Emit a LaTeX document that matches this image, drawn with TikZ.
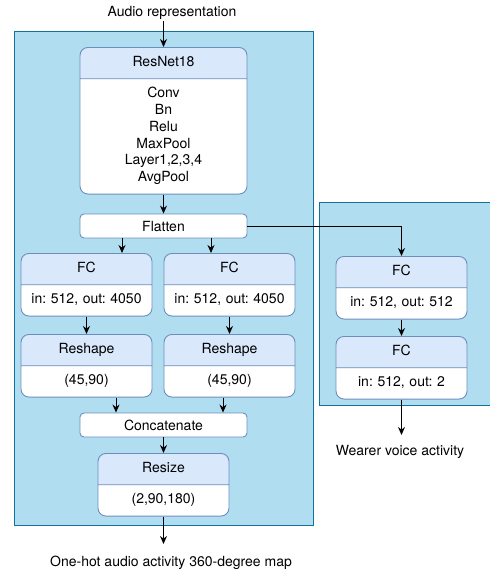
\documentclass[tikz,border=0pt]{standalone}
\usepackage{fontspec}
\setmainfont{TeX Gyre Heros}
\usetikzlibrary{shapes.multipart,arrows.meta}
\definecolor{panelfill}{HTML}{B1DDF0}
\definecolor{panelline}{HTML}{10739E}
\definecolor{headfill}{HTML}{DAE8FC}
\definecolor{boxline}{HTML}{6C8EBF}
\frenchspacing

\begin{document}
\begin{tikzpicture}[x=1pt,y=-1pt,font=\fontsize{14}{16.8}\selectfont,
    line width=0.9pt,
    layer/.style={rectangle split, rectangle split parts=2, draw=boxline,
      rounded corners=8pt, rectangle split part fill={headfill,white},
      text width=#1, align=center, inner xsep=0pt, inner ysep=6.8pt},
    layer/.default=131pt,
    flat/.style={draw=boxline, fill=white, rounded corners=4pt,
      minimum width=167pt, minimum height=24pt, inner sep=0pt},
    panel/.style={draw=panelline, fill=panelfill},
    io/.style={inner sep=0pt},
    arr/.style={line width=1pt, -{Stealth[length=8pt,width=7pt]}}]
  \useasboundingbox (0,0) rectangle (490,571);

  % containers
  \draw[panel] (14,31) rectangle (313,525);
  \draw[panel] (319,202) rectangle (493,405);

  % inputs / outputs
  \node[io, anchor=base] (audio) at (172,16) {Audio representation};
  \coordinate (audioout) at (163.5,21);
  \node[io, anchor=base] (mapout) at (171,566) {One-hot audio activity 360-degree map};
  \coordinate (mapin) at (163.5,544);
  \node[io, anchor=base] (wearer) at (400,455) {Wearer voice activity};
  \coordinate (wearerin) at (401.5,435);

  % audio branch
  \node[layer=167pt, anchor=north] (res) at (163.5,47)
    {\strut ResNet18\nodepart{two}\strut Conv\\Bn\\Relu\\MaxPool\\Layer1,2,3,4\\AvgPool\strut};
  \node[flat] (flatten) at (163.5,226) {Flatten};
  \node[layer, anchor=north] (fc1) at (86.5,253)
    {\strut FC\nodepart{two}\strut in: 512, out: 4050};
  \node[layer, anchor=north] (fc2) at (229.5,253)
    {\strut FC\nodepart{two}\strut in: 512, out: 4050};
  \node[layer, anchor=north] (rs1) at (86.5,334)
    {\strut Reshape\nodepart{two}\strut (45,90)};
  \node[layer, anchor=north] (rs2) at (229.5,334)
    {\strut Reshape\nodepart{two}\strut (45,90)};
  \node[flat] (concat) at (163.5,425) {Concatenate};
  \node[layer, anchor=north] (resize) at (163.5,453)
    {\strut Resize\nodepart{two}\strut (2,90,180)};

  % voice branch
  \node[layer, anchor=north] (fc3) at (401.5,256)
    {\strut FC\nodepart{two}\strut in: 512, out: 512};
  \node[layer, anchor=north] (fc4) at (401.5,336)
    {\strut FC\nodepart{two}\strut in: 512, out: 2};

  % connectors
  \draw[arr] (audioout) -- (res.north);
  \draw[arr] (res.south) -- (flatten.north);
  \draw[arr] ([xshift=-41.5pt]flatten.south) -- ([xshift=-41.5pt]flatten.south |- fc1.north);
  \draw[arr] ([xshift=47.5pt]flatten.south) -- ([xshift=47.5pt]flatten.south |- fc2.north);
  \draw[arr] (fc1.south) -- (rs1.north);
  \draw[arr] (fc2.south) -- (rs2.north);
  \draw[arr] ([xshift=-47.5pt]concat.north |- rs1.south) -- ([xshift=-47.5pt]concat.north);
  \draw[arr] ([xshift=59.5pt]concat.north |- rs2.south) -- ([xshift=59.5pt]concat.north);
  \draw[arr] (concat.south) -- (resize.north);
  \draw[arr] (resize.south) -- (mapin);
  \draw[arr] (flatten.east) -| (fc3.north);
  \draw[arr] (fc3.south) -- (fc4.north);
  \draw[arr] (fc4.south) -- (wearerin);
\end{tikzpicture}
\end{document}
